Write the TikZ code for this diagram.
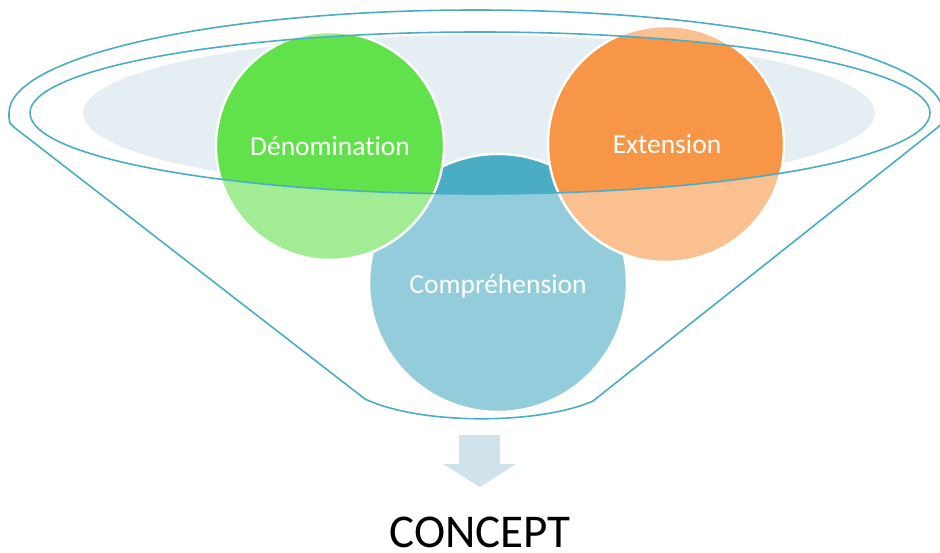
\documentclass[tikz,border=0pt]{standalone}
\usepackage{fontspec}
\setmainfont[Ligatures=CommonOff]{Carlito}

\definecolor{funnelLine}{HTML}{4BACC6}
\definecolor{rimFill}{HTML}{E4EEF3}
\definecolor{greenDark}{HTML}{61E24A}
\definecolor{greenLight}{HTML}{A2EC93}
\definecolor{orangeDark}{HTML}{F79646}
\definecolor{orangeLight}{HTML}{FAC090}
\definecolor{blueDark}{HTML}{4BACC6}
\definecolor{blueLight}{HTML}{93CDDC}
\definecolor{arrowFill}{HTML}{D0E3EA}

\begin{document}
\begin{tikzpicture}[x=1pt, y=-1pt, line cap=round, line join=round]

% ---------------- styles ----------------
\tikzset{
  rim/.style={draw=funnelLine, line width=1.6pt},
  bubble/.style={circle, draw=white, line width=2.5pt, inner sep=0pt},
  bubbleText/.style={anchor=base, text=white, font=\fontsize{27.5}{30}\selectfont},
  title/.style={anchor=base, font=\fontsize{47}{52}\selectfont}
}

% ---------------- parameters ----------------
\def\rimRx{450}            % inner rim, x radius
\def\rimRy{81}             % inner rim, y radius
\coordinate (R) at (480,113); % rim centre

\useasboundingbox (0,0) rectangle (940,552);

% ---------------- rim background ----------------
\fill[rimFill] (479,113) ellipse [x radius=396, y radius=78];

% ---------------- bubbles (light below the rim, dark inside) ----------------
\node[bubble, fill=blueLight, minimum size=258pt] (comp) at (498,283) {};
\begin{scope}
  \clip (R) ellipse [x radius=\rimRx, y radius=\rimRy];
  \fill[blueDark] (comp.center) circle (127.7);
\end{scope}

\node[bubble, fill=greenLight, minimum size=228pt] (deno) at (330,146) {};
\begin{scope}
  \clip (R) ellipse [x radius=\rimRx, y radius=\rimRy];
  \fill[greenDark] (deno.center) circle (112.7);
\end{scope}

\node[bubble, fill=orangeLight, minimum size=236pt] (ext) at (666,144) {};
\begin{scope}
  \clip (R) ellipse [x radius=\rimRx, y radius=\rimRy];
  \fill[orangeDark] (ext.center) circle (116.7);
\end{scope}

% ---------------- funnel ----------------
\draw[rim] (R) ellipse [x radius=\rimRx, y radius=\rimRy];
\draw[rim] (15,128) .. controls (9,123) .. (9,113)
  arc[start angle=180, end angle=360, x radius=467, y radius=103]
  .. controls (943,123) .. (937,128) -- (593,401)
  .. controls (538,425) and (420,425) .. (365,399) -- cycle;

% ---------------- labels ----------------
\node[bubbleText] (denoText) at (330,155) {Dénomination};
\node[bubbleText] (extText) at (667,153) {Extension};
\node[bubbleText] (compText) at (498,293) {Compréhension};

% ---------------- output ----------------
\fill[arrowFill] (459,435) -- (500,435) -- (500,464) -- (516,464)
  -- (480,487) -- (443,464) -- (459,464) -- cycle;
\node[title] (concept) at (480,547) {CONCEPT};

\end{tikzpicture}
\end{document}
